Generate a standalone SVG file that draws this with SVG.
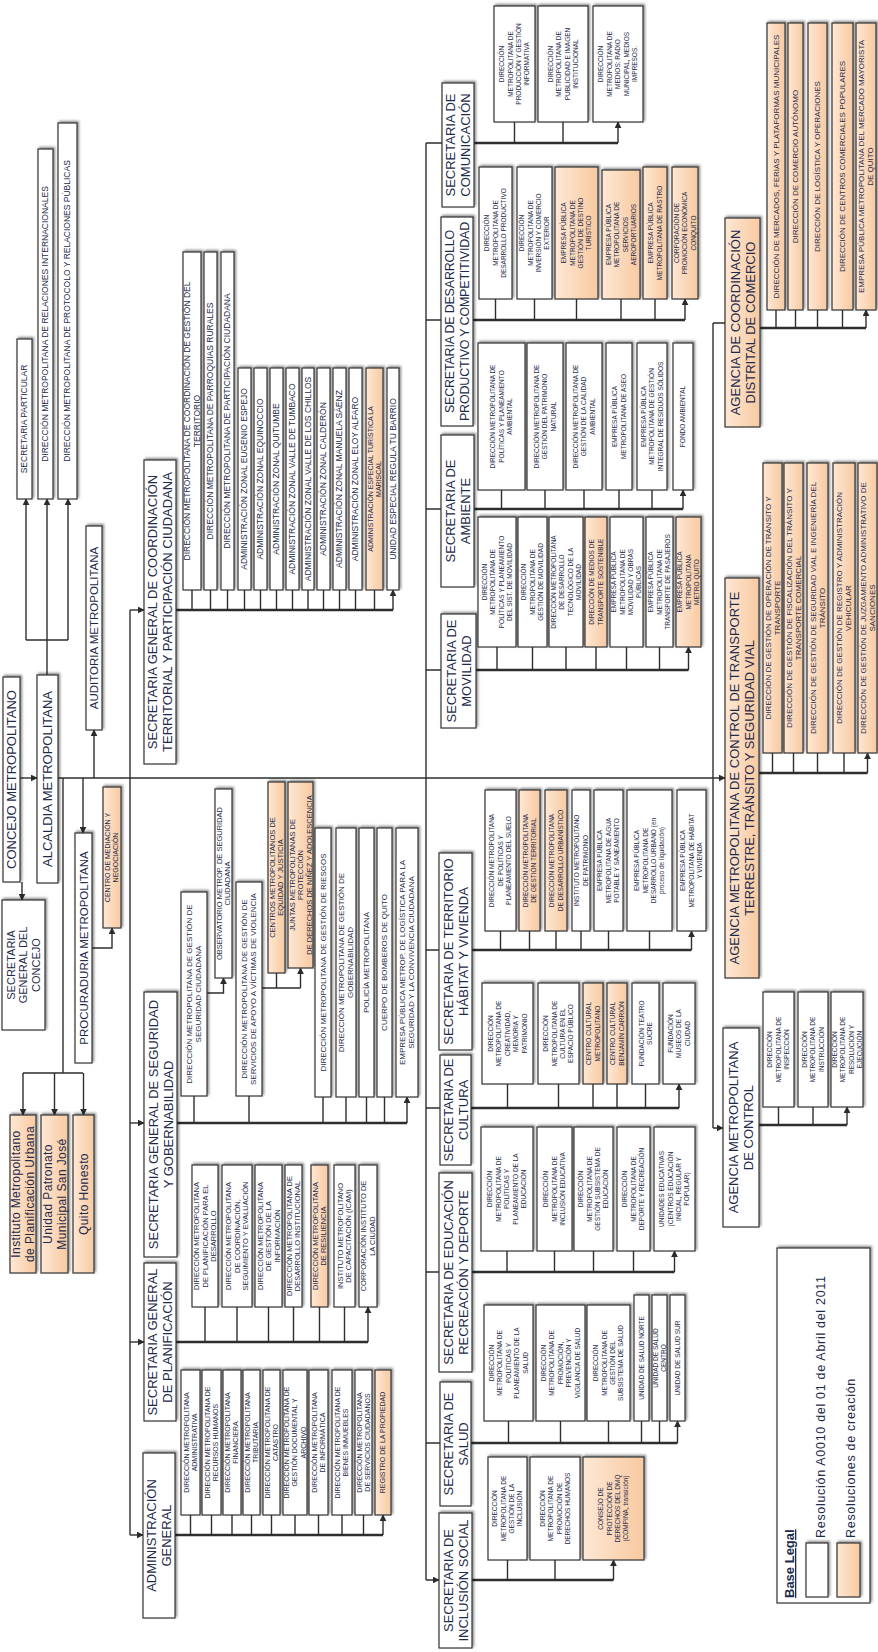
<svg xmlns="http://www.w3.org/2000/svg" width="878" height="1652" viewBox="0 0 878 1652">
<defs>
<style>
.b{fill:#fff;stroke:#333;stroke-width:1.2;filter:url(#sh)}
.o{fill:url(#og);stroke:#333;stroke-width:1.2;filter:url(#sh)}
text{font-family:"Liberation Sans",Arial,sans-serif;fill:#1e2a4a;text-anchor:middle}
.h13{font-size:13px}
.h125{font-size:12.5px;letter-spacing:-0.2px}
.h115{font-size:11.5px}
.h11{font-size:11px}
.f12{font-size:12px;letter-spacing:0.4px}
.f85{font-size:8.5px}
.f8{font-size:8px}
.f75{font-size:7.5px}
.f7{font-size:7px}
.f65{font-size:6.5px}
.lg{font-size:12.5px;letter-spacing:0.7px;text-anchor:start}
.lgb{font-size:13px;font-weight:bold;text-decoration:underline;text-anchor:start}
#cn path{fill:none;stroke:#2e2e2e;stroke-width:1.4}
#cn path.bus{stroke-width:2.3}
#cn path.ar{marker-end:url(#ar)}
</style>
<linearGradient id="og" x1="0" y1="0" x2="1" y2="0"><stop offset="0" stop-color="#fde8d6"/><stop offset="1" stop-color="#f8c9a0"/></linearGradient>
<filter id="sh" x="-40%" y="-10%" width="180%" height="120%"><feDropShadow dx="1.5" dy="-1.5" stdDeviation="1" flood-color="#000" flood-opacity="0.45"/></filter>
<marker id="ar" viewBox="0 0 10 10" refX="9" refY="5" markerWidth="7" markerHeight="7" markerUnits="userSpaceOnUse" orient="auto"><path d="M0,0 L10,5 L0,10 z" fill="#2b2b2b"/></marker>
</defs>
<rect width="878" height="1652" fill="#fff"/>

<g id="cn">
<path class="ar" d="M20,778 H37"/>
<path class="ar" d="M22,882 V900"/>
<path class="ar" d="M47,675 V499"/>
<path d="M26,640 H68"/>
<path class="ar" d="M26,640 V499"/>
<path class="ar" d="M68,640 V499"/>
<path class="ar" d="M58,778 H725"/>
<path class="ar" d="M94,778 V730"/>
<path class="ar" d="M83,778 V833"/>
<path d="M63,778 V1073 M23,1073 H83"/>
<path class="ar" d="M23,1073 V1115"/>
<path class="ar" d="M54.5,1073 V1115"/>
<path class="ar" d="M83.5,1073 V1115"/>
<path class="ar" d="M92,948 H112 V928"/>
<path d="M130,610 V1535"/>
<path class="ar" d="M130,610 H144"/>
<path class="ar" d="M130,1123 H144"/>
<path class="ar" d="M130,1342 H144"/>
<path class="ar" d="M130,1535 H143"/>
<path class="bus" d="M176,610 H393"/>
<path class="ar" d="M192,610 V590 M210.5,610 V590 M227.5,610 V590 M244.5,610 V590 M260.5,610 V590 M276.5,610 V590 M292.5,610 V590 M308,610 V590 M323.5,610 V590 M339.5,610 V590 M355.5,610 V590 M374.5,610 V590 M393,610 V590"/>
<path class="bus" d="M177,1123 H407"/>
<path class="ar" d="M194,1123 V1096 M249,1123 V1096 M323,1123 V1097 M346,1123 V1097 M366.5,1123 V1097 M384.5,1123 V1097 M407,1123 V1097"/>
<path class="ar" d="M207,993 H223.5 V978"/>
<path d="M262,988 H300.5"/>
<path class="ar" d="M276.5,988 V973 M300.5,988 V968"/>
<path class="bus" d="M176,1342 H368"/>
<path class="ar" d="M205,1342 V1307 M237,1342 V1307 M268.5,1342 V1307 M293.5,1342 V1307 M319.5,1342 V1307 M344.5,1342 V1307 M368,1342 V1307"/>
<path class="bus" d="M175,1535 H383"/>
<path class="ar" d="M190.5,1535 V1515 M211.5,1535 V1515 M232,1535 V1515 M251.5,1535 V1515 M271.5,1535 V1515 M295,1535 V1515 M318.5,1535 V1515 M342,1535 V1515 M363.5,1535 V1515 M383,1535 V1515"/>
<path d="M426,143 V1580"/>
<path class="ar" d="M426,143 H442 M426,320 H441 M426,509 H441 M426,670 H441 M426,950 H439 M426,1108 H440 M426,1272 H439 M426,1443 H440 M426,1580 H439"/>
<path class="bus" d="M474,143 H618"/>
<path class="ar" d="M514.5,143 V122 M563,143 V122 M618,143 V122"/>
<path class="bus" d="M473,320 H685"/>
<path class="ar" d="M495.5,320 V299 M534.5,320 V299 M576.5,320 V299 M621,320 V299 M655,320 V299 M685,320 V299"/>
<path class="bus" d="M474,509 H683"/>
<path class="ar" d="M501.5,509 V490 M545,509 V490 M584,509 V490 M619,509 V490 M652,509 V490 M683,509 V490"/>
<path class="bus" d="M476,670 H688.5"/>
<path class="ar" d="M497,670 V647 M532.5,670 V647 M566,670 V647 M596,670 V647 M626.5,670 V647 M659.5,670 V647 M688.5,670 V647"/>
<path class="bus" d="M472,950 H691.5"/>
<path class="ar" d="M500.5,950 V931 M529.5,950 V931 M556,950 V931 M581,950 V931 M608.5,950 V931 M649.5,950 V931 M691.5,950 V931"/>
<path class="bus" d="M471,1108 H679"/>
<path class="ar" d="M507.5,1108 V1084 M558.5,1108 V1084 M593,1108 V1084 M617,1108 V1084 M645.5,1108 V1084 M679,1108 V1084"/>
<path class="bus" d="M472,1272 H674.5"/>
<path class="ar" d="M507,1272 V1251 M554.5,1272 V1251 M593.5,1272 V1251 M633.5,1272 V1251 M674.5,1272 V1251"/>
<path class="bus" d="M471,1443 H677.5"/>
<path class="ar" d="M508.5,1443 V1421 M560.5,1443 V1421 M608.5,1443 V1421 M641.5,1443 V1421 M659.5,1443 V1421 M677.5,1443 V1421"/>
<path class="bus" d="M472,1580 H613.5"/>
<path class="ar" d="M507.5,1580 V1560 M555,1580 V1560 M613.5,1580 V1560"/>
<path d="M713,323 V1128"/>
<path class="ar" d="M713,323 H725 M713,1128 H723"/>
<path class="bus" d="M760,328 H866"/>
<path class="ar" d="M776,328 V310 M795.5,328 V310 M817.5,328 V310 M842.5,328 V310 M866,328 V310"/>
<path class="bus" d="M759,773 H867.5"/>
<path class="ar" d="M772.5,773 V753 M793.5,773 V753 M817.5,773 V753 M844,773 V753 M867.5,773 V753"/>
<path class="bus" d="M759,1125 H847"/>
<path class="ar" d="M778.5,1125 V1107 M813,1125 V1107 M847,1125 V1107"/>
</g>

<g id="concejo"><rect class="b" x="3" y="677" width="17" height="205"/><text class="h13" transform="rotate(-90 11.5 779.5)" x="11.5" y="779.5" dy="0.35em">CONCEJO METROPOLITANO</text></g>
<g id="alcaldia"><rect class="b" x="37" y="675" width="21" height="208"/><text class="h13" transform="rotate(-90 47.5 779)" x="47.5" y="779" dy="0.35em">ALCALDIA METROPOLITANA</text></g>
<g id="sec_particular"><rect class="b" x="17" y="339" width="15" height="160"/><text class="f85" transform="rotate(-90 24.5 419)" x="24.5" y="419" dy="0.35em">SECRETARIA PARTICULAR</text></g>
<g id="dm_rel_int"><rect class="b" x="38" y="149" width="15" height="350"/><text class="f85" transform="rotate(-90 45.5 324)" x="45.5" y="324" dy="0.35em">DIRECCIÓN METROPOLITANA DE RELACIONES INTERNACIONALES</text></g>
<g id="dm_protocolo"><rect class="b" x="58" y="123" width="19" height="376"/><text class="f85" transform="rotate(-90 67.5 311)" x="67.5" y="311" dy="0.35em">DIRECCIÓN METROPOLITANA DE PROTOCOLO Y RELACIONES PÚBLICAS</text></g>
<g id="auditoria"><rect class="b" x="86" y="526" width="16" height="204"/><text class="h115" transform="rotate(-90 94 628)" x="94" y="628" dy="0.35em">AUDITORIA METROPOLITANA</text></g>
<g id="procuraduria"><rect class="b" x="75" y="833" width="17" height="230"/><text class="h115" transform="rotate(-90 83.5 948)" x="83.5" y="948" dy="0.35em">PROCURADURIA METROPOLITANA</text></g>
<g id="centro_mediacion"><rect class="o" x="103" y="787" width="18" height="141"/><text class="f7" transform="rotate(-90 112 857.5)" x="112" y="857.5"><tspan x="112" dy="-0.225em">CENTRO DE MEDIACIÓN Y</tspan><tspan x="112" dy="1.15em">NEGOCIACIÓN</tspan></text></g>
<g id="sg_concejo"><rect class="b" x="2" y="900" width="43" height="130"/><text class="h11" transform="rotate(-90 23.5 965)" x="23.5" y="965"><tspan x="23.5" dy="-0.8em">SECRETARIA</tspan><tspan x="23.5" dy="1.15em">GENERAL DEL</tspan><tspan x="23.5" dy="1.15em">CONCEJO</tspan></text></g>
<g id="inst_planificacion"><rect class="o" x="10" y="1115" width="26" height="158"/><text class="f12" transform="rotate(-90 23 1194)" x="23" y="1194"><tspan x="23" dy="-0.225em">Instituto Metropolitano</tspan><tspan x="23" dy="1.15em">de Planificación Urbana</tspan></text></g>
<g id="patronato"><rect class="o" x="41" y="1115" width="27" height="158"/><text class="f12" transform="rotate(-90 54.5 1194)" x="54.5" y="1194"><tspan x="54.5" dy="-0.225em">Unidad Patronato</tspan><tspan x="54.5" dy="1.15em">Municipal San José</tspan></text></g>
<g id="quito_honesto"><rect class="o" x="73" y="1115" width="21" height="158"/><text class="f12" transform="rotate(-90 83.5 1194)" x="83.5" y="1194" dy="0.35em">Quito Honesto</text></g>

<g id="sg_coordinacion"><rect class="b" x="144" y="460" width="32" height="304"/><text class="h13" transform="rotate(-90 160 612)" x="160" y="612"><tspan x="160" dy="-0.225em">SECRETARIA GENERAL DE COORDINACIÓN</tspan><tspan x="160" dy="1.15em">TERRITORIAL Y PARTICIPACIÓN CIUDADANA</tspan></text></g>
<g id="co1"><rect class="b" x="183" y="252" width="18" height="338"/><text class="f85" transform="rotate(-90 192 421)" x="192" y="421"><tspan x="192" dy="-0.225em">DIRECCIÓN METROPOLITANA DE COORDINACIÓN DE GESTIÓN DEL</tspan><tspan x="192" dy="1.15em">TERRITORIO</tspan></text></g>
<g id="co2"><rect class="b" x="204" y="252" width="13" height="338"/><text class="f85" transform="rotate(-90 210.5 421)" x="210.5" y="421" dy="0.35em">DIRECCIÓN METROPOLITANA DE PARROQUIAS RURALES</text></g>
<g id="co3"><rect class="b" x="221" y="252" width="13" height="338"/><text class="f85" transform="rotate(-90 227.5 421)" x="227.5" y="421" dy="0.35em">DIRECCIÓN METROPOLITANA DE PARTICIPACIÓN CIUDADANA</text></g>
<g id="co4"><rect class="b" x="238" y="368" width="13" height="222"/><text class="f85" transform="rotate(-90 244.5 479)" x="244.5" y="479" dy="0.35em">ADMINISTRACIÓN ZONAL EUGENIO ESPEJO</text></g>
<g id="co5"><rect class="b" x="254" y="368" width="13" height="222"/><text class="f85" transform="rotate(-90 260.5 479)" x="260.5" y="479" dy="0.35em">ADMINISTRACIÓN ZONAL EQUINOCCIO</text></g>
<g id="co6"><rect class="b" x="270" y="368" width="13" height="222"/><text class="f85" transform="rotate(-90 276.5 479)" x="276.5" y="479" dy="0.35em">ADMINISTRACIÓN ZONAL QUITUMBE</text></g>
<g id="co7"><rect class="b" x="286" y="368" width="13" height="222"/><text class="f85" transform="rotate(-90 292.5 479)" x="292.5" y="479" dy="0.35em">ADMINISTRACIÓN ZONAL VALLE DE TUMBACO</text></g>
<g id="co8"><rect class="b" x="302" y="368" width="12" height="222"/><text class="f85" transform="rotate(-90 308 479)" x="308" y="479" dy="0.35em">ADMINISTRACIÓN ZONAL VALLE DE LOS CHILLOS</text></g>
<g id="co9"><rect class="b" x="317" y="368" width="13" height="222"/><text class="f85" transform="rotate(-90 323.5 479)" x="323.5" y="479" dy="0.35em">ADMINISTRACIÓN ZONAL CALDERÓN</text></g>
<g id="co10"><rect class="b" x="333" y="368" width="13" height="222"/><text class="f85" transform="rotate(-90 339.5 479)" x="339.5" y="479" dy="0.35em">ADMINISTRACIÓN ZONAL MANUELA SÁENZ</text></g>
<g id="co11"><rect class="b" x="349" y="368" width="13" height="222"/><text class="f85" transform="rotate(-90 355.5 479)" x="355.5" y="479" dy="0.35em">ADMINISTRACIÓN ZONAL ELOY ALFARO</text></g>
<g id="co12"><rect class="o" x="366" y="368" width="17" height="222"/><text class="f7" transform="rotate(-90 374.5 479)" x="374.5" y="479"><tspan x="374.5" dy="-0.225em">ADMINISTRACIÓN ESPECIAL TURÍSTICA LA</tspan><tspan x="374.5" dy="1.15em">MARISCAL</tspan></text></g>
<g id="co13"><rect class="b" x="387" y="368" width="12" height="222"/><text class="f85" transform="rotate(-90 393 479)" x="393" y="479" dy="0.35em">UNIDAD ESPECIAL REGULA TU BARRIO</text></g>

<g id="sg_seguridad"><rect class="b" x="144" y="992" width="33" height="265"/><text class="h13" transform="rotate(-90 160.5 1124.5)" x="160.5" y="1124.5"><tspan x="160.5" dy="-0.225em">SECRETARIA GENERAL DE SEGURIDAD</tspan><tspan x="160.5" dy="1.15em">Y GOBERNABILIDAD</tspan></text></g>
<g id="se1"><rect class="b" x="181" y="892" width="26" height="204"/><text class="f8" transform="rotate(-90 194 994)" x="194" y="994"><tspan x="194" dy="-0.225em">DIRECCIÓN METROPOLITANA DE GESTIÓN DE</tspan><tspan x="194" dy="1.15em">SEGURIDAD CIUDADANA</tspan></text></g>
<g id="se_obs"><rect class="b" x="215" y="789" width="17" height="189"/><text class="f75" transform="rotate(-90 223.5 883.5)" x="223.5" y="883.5"><tspan x="223.5" dy="-0.225em">OBSERVATORIO METROP. DE SEGURIDAD</tspan><tspan x="223.5" dy="1.15em">CIUDADANA</tspan></text></g>
<g id="se2"><rect class="b" x="236" y="882" width="26" height="214"/><text class="f8" transform="rotate(-90 249 989)" x="249" y="989"><tspan x="249" dy="-0.225em">DIRECCIÓN METROPOLITANA DE GESTIÓN DE</tspan><tspan x="249" dy="1.15em">SERVICIOS DE APOYO A VÍCTIMAS DE VIOLENCIA</tspan></text></g>
<g id="se_centros"><rect class="o" x="268" y="782" width="17" height="191"/><text class="f75" transform="rotate(-90 276.5 877.5)" x="276.5" y="877.5"><tspan x="276.5" dy="-0.225em">CENTROS METROPOLITANOS DE</tspan><tspan x="276.5" dy="1.15em">EQUIDAD Y JUSTICIA</tspan></text></g>
<g id="se_juntas"><rect class="o" x="288" y="782" width="25" height="186"/><text class="f75" transform="rotate(-90 300.5 875)" x="300.5" y="875"><tspan x="300.5" dy="-0.8em">JUNTAS METROPOLITANAS DE</tspan><tspan x="300.5" dy="1.15em">PROTECCIÓN</tspan><tspan x="300.5" dy="1.15em">DE DERECHOS DE NIÑEZ Y ADOLESCENCIA</tspan></text></g>
<g id="se3"><rect class="b" x="315" y="828" width="16" height="269"/><text class="f8" transform="rotate(-90 323 962.5)" x="323" y="962.5" dy="0.35em">DIRECCIÓN METROPOLITANA DE GESTIÓN DE RIESGOS</text></g>
<g id="se4"><rect class="b" x="336" y="828" width="20" height="269"/><text class="f8" transform="rotate(-90 346 962.5)" x="346" y="962.5"><tspan x="346" dy="-0.225em">DIRECCIÓN METROPOLITANA DE GESTIÓN DE</tspan><tspan x="346" dy="1.15em">GOBERNABILIDAD</tspan></text></g>
<g id="se5"><rect class="b" x="359" y="828" width="15" height="269"/><text class="f8" transform="rotate(-90 366.5 962.5)" x="366.5" y="962.5" dy="0.35em">POLICÍA METROPOLITANA</text></g>
<g id="se6"><rect class="b" x="377" y="828" width="15" height="269"/><text class="f8" transform="rotate(-90 384.5 962.5)" x="384.5" y="962.5" dy="0.35em">CUERPO DE BOMBEROS DE QUITO</text></g>
<g id="se7"><rect class="b" x="396" y="828" width="22" height="269"/><text class="f8" transform="rotate(-90 407 962.5)" x="407" y="962.5"><tspan x="407" dy="-0.225em">EMPRESA PÚBLICA METROP. DE LOGÍSTICA PARA LA</tspan><tspan x="407" dy="1.15em">SEGURIDAD Y LA CONVIVENCIA CIUDADANA</tspan></text></g>

<g id="sg_planificacion"><rect class="b" x="144" y="1263" width="32" height="158"/><text class="h13" transform="rotate(-90 160 1342)" x="160" y="1342"><tspan x="160" dy="-0.225em">SECRETARIA GENERAL</tspan><tspan x="160" dy="1.15em">DE PLANIFICACIÓN</tspan></text></g>
<g id="pl1"><rect class="b" x="192" y="1165" width="26" height="142"/><text class="f75" transform="rotate(-90 205 1236)" x="205" y="1236"><tspan x="205" dy="-0.8em">DIRECCIÓN METROPOLITANA</tspan><tspan x="205" dy="1.15em">DE PLANIFICACIÓN PARA EL</tspan><tspan x="205" dy="1.15em">DESARROLLO</tspan></text></g>
<g id="pl2"><rect class="b" x="222" y="1165" width="30" height="142"/><text class="f75" transform="rotate(-90 237 1236)" x="237" y="1236"><tspan x="237" dy="-0.8em">DIRECCIÓN METROPOLITANA</tspan><tspan x="237" dy="1.15em">DE COORDINACIÓN,</tspan><tspan x="237" dy="1.15em">SEGUIMIENTO Y EVALUACIÓN</tspan></text></g>
<g id="pl3"><rect class="b" x="255" y="1165" width="27" height="142"/><text class="f75" transform="rotate(-90 268.5 1236)" x="268.5" y="1236"><tspan x="268.5" dy="-0.8em">DIRECCIÓN METROPOLITANA</tspan><tspan x="268.5" dy="1.15em">DE GESTIÓN DE LA</tspan><tspan x="268.5" dy="1.15em">INFORMACIÓN</tspan></text></g>
<g id="pl4"><rect class="b" x="285" y="1165" width="17" height="142"/><text class="f75" transform="rotate(-90 293.5 1236)" x="293.5" y="1236"><tspan x="293.5" dy="-0.225em">DIRECCIÓN METROPOLITANA DE</tspan><tspan x="293.5" dy="1.15em">DESARROLLO INSTITUCIONAL</tspan></text></g>
<g id="pl5"><rect class="o" x="311" y="1165" width="17" height="142"/><text class="f75" transform="rotate(-90 319.5 1236)" x="319.5" y="1236"><tspan x="319.5" dy="-0.225em">DIRECCIÓN METROPOLITANA</tspan><tspan x="319.5" dy="1.15em">DE RESILIENCIA</tspan></text></g>
<g id="pl6"><rect class="b" x="334" y="1165" width="21" height="142"/><text class="f75" transform="rotate(-90 344.5 1236)" x="344.5" y="1236"><tspan x="344.5" dy="-0.225em">INSTITUTO METROPOLITANO</tspan><tspan x="344.5" dy="1.15em">DE CAPACITACIÓN (ICAM)</tspan></text></g>
<g id="pl7"><rect class="b" x="359" y="1165" width="18" height="142"/><text class="f75" transform="rotate(-90 368 1236)" x="368" y="1236"><tspan x="368" dy="-0.225em">CORPORACIÓN INSTITUTO DE</tspan><tspan x="368" dy="1.15em">LA CIUDAD</tspan></text></g>

<g id="adm_general"><rect class="b" x="143" y="1453" width="32" height="165"/><text class="h13" transform="rotate(-90 159 1535.5)" x="159" y="1535.5"><tspan x="159" dy="-0.225em">ADMINISTRACIÓN</tspan><tspan x="159" dy="1.15em">GENERAL</tspan></text></g>
<g id="ad1"><rect class="b" x="181" y="1370" width="19" height="145"/><text class="f7" transform="rotate(-90 190.5 1442.5)" x="190.5" y="1442.5"><tspan x="190.5" dy="-0.225em">DIRECCIÓN METROPOLITANA</tspan><tspan x="190.5" dy="1.15em">ADMINISTRATIVA</tspan></text></g>
<g id="ad2"><rect class="b" x="202" y="1370" width="19" height="145"/><text class="f7" transform="rotate(-90 211.5 1442.5)" x="211.5" y="1442.5"><tspan x="211.5" dy="-0.225em">DIRECCIÓN METROPOLITANA DE</tspan><tspan x="211.5" dy="1.15em">RECURSOS HUMANOS</tspan></text></g>
<g id="ad3"><rect class="b" x="223" y="1370" width="18" height="145"/><text class="f7" transform="rotate(-90 232 1442.5)" x="232" y="1442.5"><tspan x="232" dy="-0.225em">DIRECCIÓN METROPOLITANA</tspan><tspan x="232" dy="1.15em">FINANCIERA</tspan></text></g>
<g id="ad4"><rect class="b" x="243" y="1370" width="17" height="145"/><text class="f7" transform="rotate(-90 251.5 1442.5)" x="251.5" y="1442.5"><tspan x="251.5" dy="-0.225em">DIRECCIÓN METROPOLITANA</tspan><tspan x="251.5" dy="1.15em">TRIBUTARIA</tspan></text></g>
<g id="ad5"><rect class="b" x="263" y="1370" width="17" height="145"/><text class="f7" transform="rotate(-90 271.5 1442.5)" x="271.5" y="1442.5"><tspan x="271.5" dy="-0.225em">DIRECCIÓN METROPOLITANA DE</tspan><tspan x="271.5" dy="1.15em">CATASTRO</tspan></text></g>
<g id="ad6"><rect class="b" x="283" y="1370" width="24" height="145"/><text class="f7" transform="rotate(-90 295 1442.5)" x="295" y="1442.5"><tspan x="295" dy="-0.8em">DIRECCIÓN METROPOLITANA DE</tspan><tspan x="295" dy="1.15em">GESTIÓN DOCUMENTAL Y</tspan><tspan x="295" dy="1.15em">ARCHIVO</tspan></text></g>
<g id="ad7"><rect class="b" x="309" y="1370" width="19" height="145"/><text class="f7" transform="rotate(-90 318.5 1442.5)" x="318.5" y="1442.5"><tspan x="318.5" dy="-0.225em">DIRECCIÓN METROPOLITANA</tspan><tspan x="318.5" dy="1.15em">DE INFORMÁTICA</tspan></text></g>
<g id="ad8"><rect class="b" x="332" y="1370" width="20" height="145"/><text class="f7" transform="rotate(-90 342 1442.5)" x="342" y="1442.5"><tspan x="342" dy="-0.225em">DIRECCIÓN METROPOLITANA DE</tspan><tspan x="342" dy="1.15em">BIENES INMUEBLES</tspan></text></g>
<g id="ad9"><rect class="b" x="355" y="1370" width="17" height="145"/><text class="f7" transform="rotate(-90 363.5 1442.5)" x="363.5" y="1442.5"><tspan x="363.5" dy="-0.225em">DIRECCIÓN METROPOLITANA</tspan><tspan x="363.5" dy="1.15em">DE SERVICIOS CIUDADANOS</tspan></text></g>
<g id="ad10"><rect class="o" x="375" y="1370" width="16" height="145"/><text class="f7" transform="rotate(-90 383 1442.5)" x="383" y="1442.5" dy="0.35em">REGISTRO DE LA PROPIEDAD</text></g>

<g id="s_comunicacion"><rect class="b" x="442" y="83" width="32" height="124"/><text class="h13" transform="rotate(-90 458 145)" x="458" y="145"><tspan x="458" dy="-0.225em">SECRETARIA DE</tspan><tspan x="458" dy="1.15em">COMUNICACIÓN</tspan></text></g>
<g id="cm1"><rect class="b" x="494" y="6" width="41" height="116"/><text class="f65" transform="rotate(-90 514.5 64)" x="514.5" y="64"><tspan x="514.5" dy="-1.6em">DIRECCIÓN</tspan><tspan x="514.5" dy="1.3em">METROPOLITANA DE</tspan><tspan x="514.5" dy="1.3em">PRODUCCIÓN Y GESTIÓN</tspan><tspan x="514.5" dy="1.3em">INFORMATIVA</tspan></text></g>
<g id="cm2"><rect class="b" x="538" y="6" width="50" height="116"/><text class="f65" transform="rotate(-90 563 64)" x="563" y="64"><tspan x="563" dy="-1.6em">DIRECCIÓN</tspan><tspan x="563" dy="1.3em">METROPOLITANA DE</tspan><tspan x="563" dy="1.3em">PUBLICIDAD E IMAGEN</tspan><tspan x="563" dy="1.3em">INSTITUCIONAL</tspan></text></g>
<g id="cm3"><rect class="b" x="593" y="6" width="50" height="116"/><text class="f65" transform="rotate(-90 618 64)" x="618" y="64"><tspan x="618" dy="-2.25em">DIRECCIÓN</tspan><tspan x="618" dy="1.3em">METROPOLITANA DE</tspan><tspan x="618" dy="1.3em">MEDIOS: RADIO</tspan><tspan x="618" dy="1.3em">MUNICIPAL, MEDIOS</tspan><tspan x="618" dy="1.3em">IMPRESOS.</tspan></text></g>

<g id="s_desarrollo"><rect class="b" x="441" y="217" width="32" height="209"/><text class="h125" transform="rotate(-90 457 321.5)" x="457" y="321.5"><tspan x="457" dy="-0.225em">SECRETARIA DE DESARROLLO</tspan><tspan x="457" dy="1.15em">PRODUCTIVO Y COMPETITIVIDAD</tspan></text></g>
<g id="de1"><rect class="b" x="479" y="167" width="33" height="132"/><text class="f65" transform="rotate(-90 495.5 233)" x="495.5" y="233"><tspan x="495.5" dy="-0.95em">DIRECCIÓN</tspan><tspan x="495.5" dy="1.3em">METROPOLITANA DE</tspan><tspan x="495.5" dy="1.3em">DESARROLLO PRODUCTIVO</tspan></text></g>
<g id="de2"><rect class="b" x="517" y="167" width="35" height="132"/><text class="f65" transform="rotate(-90 534.5 233)" x="534.5" y="233"><tspan x="534.5" dy="-1.6em">DIRECCIÓN</tspan><tspan x="534.5" dy="1.3em">METROPOLITANA DE</tspan><tspan x="534.5" dy="1.3em">INVERSIÓN Y COMERCIO</tspan><tspan x="534.5" dy="1.3em">EXTERIOR</tspan></text></g>
<g id="de3"><rect class="o" x="555" y="167" width="43" height="132"/><text class="f65" transform="rotate(-90 576.5 233)" x="576.5" y="233"><tspan x="576.5" dy="-1.6em">EMPRESA PÚBLICA</tspan><tspan x="576.5" dy="1.3em">METROPOLITANA DE</tspan><tspan x="576.5" dy="1.3em">GESTIÓN DE DESTINO</tspan><tspan x="576.5" dy="1.3em">TURÍSTICO</tspan></text></g>
<g id="de4"><rect class="o" x="602" y="170" width="38" height="129"/><text class="f65" transform="rotate(-90 621 234.5)" x="621" y="234.5"><tspan x="621" dy="-1.6em">EMPRESA PÚBLICA</tspan><tspan x="621" dy="1.3em">METROPOLITANA DE</tspan><tspan x="621" dy="1.3em">SERVICIOS</tspan><tspan x="621" dy="1.3em">AEROPORTUARIOS</tspan></text></g>
<g id="de5"><rect class="o" x="643" y="167" width="24" height="132"/><text class="f65" transform="rotate(-90 655 233)" x="655" y="233"><tspan x="655" dy="-0.3em">EMPRESA PÚBLICA</tspan><tspan x="655" dy="1.3em">METROPOLITANA DE RASTRO</tspan></text></g>
<g id="de6"><rect class="o" x="672" y="167" width="26" height="132"/><text class="f65" transform="rotate(-90 685 233)" x="685" y="233"><tspan x="685" dy="-0.95em">CORPORACIÓN DE</tspan><tspan x="685" dy="1.3em">PROMOCIÓN ECONÓMICA</tspan><tspan x="685" dy="1.3em">CONQUITO</tspan></text></g>

<g id="s_ambiente"><rect class="b" x="441" y="435" width="33" height="152"/><text class="h13" transform="rotate(-90 457.5 511)" x="457.5" y="511"><tspan x="457.5" dy="-0.225em">SECRETARIA DE</tspan><tspan x="457.5" dy="1.15em">AMBIENTE</tspan></text></g>
<g id="am1"><rect class="b" x="478" y="343" width="47" height="147"/><text class="f65" transform="rotate(-90 501.5 416.5)" x="501.5" y="416.5"><tspan x="501.5" dy="-0.95em">DIRECCIÓN METROPOLITANA DE</tspan><tspan x="501.5" dy="1.3em">POLÍTICAS Y PLANEAMIENTO</tspan><tspan x="501.5" dy="1.3em">AMBIENTAL</tspan></text></g>
<g id="am2"><rect class="b" x="527" y="343" width="36" height="147"/><text class="f65" transform="rotate(-90 545 416.5)" x="545" y="416.5"><tspan x="545" dy="-0.95em">DIRECCIÓN METROPOLITANA DE</tspan><tspan x="545" dy="1.3em">GESTIÓN DEL PATRIMONIO</tspan><tspan x="545" dy="1.3em">NATURAL</tspan></text></g>
<g id="am3"><rect class="b" x="566" y="343" width="36" height="147"/><text class="f65" transform="rotate(-90 584 416.5)" x="584" y="416.5"><tspan x="584" dy="-0.95em">DIRECCIÓN METROPOLITANA DE</tspan><tspan x="584" dy="1.3em">GESTIÓN DE LA CALIDAD</tspan><tspan x="584" dy="1.3em">AMBIENTAL</tspan></text></g>
<g id="am4"><rect class="b" x="606" y="343" width="26" height="147"/><text class="f65" transform="rotate(-90 619 416.5)" x="619" y="416.5"><tspan x="619" dy="-0.3em">EMPRESA PÚBLICA</tspan><tspan x="619" dy="1.3em">METROPOLITANA DE ASEO</tspan></text></g>
<g id="am5"><rect class="b" x="637" y="343" width="30" height="147"/><text class="f65" transform="rotate(-90 652 416.5)" x="652" y="416.5"><tspan x="652" dy="-0.95em">EMPRESA PÚBLICA</tspan><tspan x="652" dy="1.3em">METROPOLITANA DE GESTIÓN</tspan><tspan x="652" dy="1.3em">INTEGRAL DE RESIDUOS SÓLIDOS</tspan></text></g>
<g id="am6"><rect class="b" x="673" y="343" width="20" height="147"/><text class="f65" transform="rotate(-90 683 416.5)" x="683" y="416.5" dy="0.35em">FONDO AMBIENTAL</text></g>

<g id="s_movilidad"><rect class="b" x="441" y="614" width="35" height="114"/><text class="h13" transform="rotate(-90 458.5 671)" x="458.5" y="671"><tspan x="458.5" dy="-0.225em">SECRETARIA DE</tspan><tspan x="458.5" dy="1.15em">MOVILIDAD</tspan></text></g>
<g id="mo1"><rect class="b" x="478" y="517" width="38" height="130"/><text class="f65" transform="rotate(-90 497 582)" x="497" y="582"><tspan x="497" dy="-1.6em">DIRECCIÓN</tspan><tspan x="497" dy="1.3em">METROPOLITANA DE</tspan><tspan x="497" dy="1.3em">POLÍTICAS Y PLANEAMIENTO</tspan><tspan x="497" dy="1.3em">DEL SIST. DE MOVILIDAD</tspan></text></g>
<g id="mo2"><rect class="b" x="518" y="517" width="29" height="130"/><text class="f65" transform="rotate(-90 532.5 582)" x="532.5" y="582"><tspan x="532.5" dy="-0.95em">DIRECCIÓN</tspan><tspan x="532.5" dy="1.3em">METROPOLITANA DE</tspan><tspan x="532.5" dy="1.3em">GESTIÓN DE MOVILIDAD</tspan></text></g>
<g id="mo3"><rect class="b" x="549" y="517" width="34" height="130"/><text class="f65" transform="rotate(-90 566 582)" x="566" y="582"><tspan x="566" dy="-1.6em">DIRECCIÓN METROPOLITANA</tspan><tspan x="566" dy="1.3em">DE DESARROLLO</tspan><tspan x="566" dy="1.3em">TECNOLÓGICO DE LA</tspan><tspan x="566" dy="1.3em">MOVILIDAD</tspan></text></g>
<g id="mo4"><rect class="o" x="585" y="517" width="22" height="130"/><text class="f65" transform="rotate(-90 596 582)" x="596" y="582"><tspan x="596" dy="-0.3em">DIRECCIÓN DE MEDIOS DE</tspan><tspan x="596" dy="1.3em">TRANSPORTE SOSTENIBLE</tspan></text></g>
<g id="mo5"><rect class="b" x="610" y="517" width="33" height="130"/><text class="f65" transform="rotate(-90 626.5 582)" x="626.5" y="582"><tspan x="626.5" dy="-1.6em">EMPRESA PÚBLICA</tspan><tspan x="626.5" dy="1.3em">METROPOLITANA DE</tspan><tspan x="626.5" dy="1.3em">MOVILIDAD Y OBRAS</tspan><tspan x="626.5" dy="1.3em">PÚBLICAS</tspan></text></g>
<g id="mo6"><rect class="b" x="646" y="517" width="27" height="130"/><text class="f65" transform="rotate(-90 659.5 582)" x="659.5" y="582"><tspan x="659.5" dy="-0.95em">EMPRESA PÚBLICA</tspan><tspan x="659.5" dy="1.3em">METROPOLITANA DE</tspan><tspan x="659.5" dy="1.3em">TRANSPORTE DE PASAJEROS</tspan></text></g>
<g id="mo7"><rect class="o" x="676" y="517" width="25" height="130"/><text class="f65" transform="rotate(-90 688.5 582)" x="688.5" y="582"><tspan x="688.5" dy="-0.95em">EMPRESA PÚBLICA</tspan><tspan x="688.5" dy="1.3em">METROPOLITANA</tspan><tspan x="688.5" dy="1.3em">METRO QUITO</tspan></text></g>

<g id="s_territorio"><rect class="b" x="439" y="853" width="33" height="197"/><text class="h13" transform="rotate(-90 455.5 951.5)" x="455.5" y="951.5"><tspan x="455.5" dy="-0.225em">SECRETARIA DE TERRITORIO</tspan><tspan x="455.5" dy="1.15em">HÁBITAT Y VIVIENDA</tspan></text></g>
<g id="te1"><rect class="b" x="485" y="790" width="31" height="141"/><text class="f65" transform="rotate(-90 500.5 860.5)" x="500.5" y="860.5"><tspan x="500.5" dy="-0.95em">DIRECCIÓN METROPOLITANA</tspan><tspan x="500.5" dy="1.3em">DE POLÍTICAS Y</tspan><tspan x="500.5" dy="1.3em">PLANEAMIENTO DEL SUELO</tspan></text></g>
<g id="te2"><rect class="o" x="519" y="790" width="21" height="141"/><text class="f65" transform="rotate(-90 529.5 860.5)" x="529.5" y="860.5"><tspan x="529.5" dy="-0.3em">DIRECCIÓN METROPOLITANA</tspan><tspan x="529.5" dy="1.3em">DE GESTIÓN TERRITORIAL</tspan></text></g>
<g id="te3"><rect class="o" x="545" y="790" width="22" height="141"/><text class="f65" transform="rotate(-90 556 860.5)" x="556" y="860.5"><tspan x="556" dy="-0.3em">DIRECCIÓN METROPOLITANA</tspan><tspan x="556" dy="1.3em">DE DESARROLLO URBANÍSTICO</tspan></text></g>
<g id="te4"><rect class="b" x="572" y="790" width="18" height="141"/><text class="f65" transform="rotate(-90 581 860.5)" x="581" y="860.5"><tspan x="581" dy="-0.3em">INSTITUTO METROPOLITANO</tspan><tspan x="581" dy="1.3em">DE PATRIMONIO</tspan></text></g>
<g id="te5"><rect class="b" x="594" y="790" width="29" height="141"/><text class="f65" transform="rotate(-90 608.5 860.5)" x="608.5" y="860.5"><tspan x="608.5" dy="-0.95em">EMPRESA PÚBLICA</tspan><tspan x="608.5" dy="1.3em">METROPOLITANA DE AGUA</tspan><tspan x="608.5" dy="1.3em">POTABLE Y SANEAMIENTO</tspan></text></g>
<g id="te6"><rect class="b" x="627" y="790" width="45" height="141"/><text class="f65" transform="rotate(-90 649.5 860.5)" x="649.5" y="860.5"><tspan x="649.5" dy="-1.6em">EMPRESA PÚBLICA</tspan><tspan x="649.5" dy="1.3em">METROPOLITANA DE</tspan><tspan x="649.5" dy="1.3em">DESARROLLO URBANO (en</tspan><tspan x="649.5" dy="1.3em">proceso de liquidación)</tspan></text></g>
<g id="te7"><rect class="b" x="677" y="790" width="29" height="141"/><text class="f65" transform="rotate(-90 691.5 860.5)" x="691.5" y="860.5"><tspan x="691.5" dy="-0.95em">EMPRESA PÚBLICA</tspan><tspan x="691.5" dy="1.3em">METROPOLITANA DE HÁBITAT</tspan><tspan x="691.5" dy="1.3em">Y VIVIENDA</tspan></text></g>

<g id="s_cultura"><rect class="b" x="440" y="1055" width="31" height="110"/><text class="h13" transform="rotate(-90 455.5 1110)" x="455.5" y="1110"><tspan x="455.5" dy="-0.225em">SECRETARIA DE</tspan><tspan x="455.5" dy="1.15em">CULTURA</tspan></text></g>
<g id="cu1"><rect class="b" x="482" y="983" width="51" height="101"/><text class="f65" transform="rotate(-90 507.5 1033.5)" x="507.5" y="1033.5"><tspan x="507.5" dy="-2.25em">DIRECCIÓN</tspan><tspan x="507.5" dy="1.3em">METROPOLITANA DE</tspan><tspan x="507.5" dy="1.3em">CREATIVIDAD,</tspan><tspan x="507.5" dy="1.3em">MEMORIA Y</tspan><tspan x="507.5" dy="1.3em">PATRIMONIO</tspan></text></g>
<g id="cu2"><rect class="b" x="538" y="983" width="41" height="101"/><text class="f65" transform="rotate(-90 558.5 1033.5)" x="558.5" y="1033.5"><tspan x="558.5" dy="-1.6em">DIRECCIÓN</tspan><tspan x="558.5" dy="1.3em">METROPOLITANA DE</tspan><tspan x="558.5" dy="1.3em">CULTURA EN EL</tspan><tspan x="558.5" dy="1.3em">ESPACIO PÚBLICO</tspan></text></g>
<g id="cu3"><rect class="o" x="583" y="983" width="20" height="101"/><text class="f65" transform="rotate(-90 593 1033.5)" x="593" y="1033.5"><tspan x="593" dy="-0.3em">CENTRO CULTURAL</tspan><tspan x="593" dy="1.3em">METROPOLITANO</tspan></text></g>
<g id="cu4"><rect class="o" x="607" y="983" width="20" height="101"/><text class="f65" transform="rotate(-90 617 1033.5)" x="617" y="1033.5"><tspan x="617" dy="-0.3em">CENTRO CULTURAL</tspan><tspan x="617" dy="1.3em">BENJAMÍN CARRIÓN</tspan></text></g>
<g id="cu5"><rect class="b" x="632" y="983" width="27" height="101"/><text class="f65" transform="rotate(-90 645.5 1033.5)" x="645.5" y="1033.5"><tspan x="645.5" dy="-0.3em">FUNDACIÓN TEATRO</tspan><tspan x="645.5" dy="1.3em">SUCRE</tspan></text></g>
<g id="cu6"><rect class="b" x="663" y="983" width="32" height="101"/><text class="f65" transform="rotate(-90 679 1033.5)" x="679" y="1033.5"><tspan x="679" dy="-0.95em">FUNDACIÓN</tspan><tspan x="679" dy="1.3em">MUSEOS DE LA</tspan><tspan x="679" dy="1.3em">CIUDAD</tspan></text></g>

<g id="s_educacion"><rect class="b" x="439" y="1173" width="33" height="199"/><text class="h13" transform="rotate(-90 455.5 1272.5)" x="455.5" y="1272.5"><tspan x="455.5" dy="-0.225em">SECRETARIA DE EDUCACIÓN</tspan><tspan x="455.5" dy="1.15em">RECREACIÓN Y DEPORTE</tspan></text></g>
<g id="ed1"><rect class="b" x="481" y="1127" width="52" height="124"/><text class="f65" transform="rotate(-90 507 1189)" x="507" y="1189"><tspan x="507" dy="-2.25em">DIRECCIÓN</tspan><tspan x="507" dy="1.3em">METROPOLITANA DE</tspan><tspan x="507" dy="1.3em">POLÍTICAS Y</tspan><tspan x="507" dy="1.3em">PLANEAMIENTO DE LA</tspan><tspan x="507" dy="1.3em">EDUCACIÓN</tspan></text></g>
<g id="ed2"><rect class="b" x="537" y="1127" width="35" height="124"/><text class="f65" transform="rotate(-90 554.5 1189)" x="554.5" y="1189"><tspan x="554.5" dy="-0.95em">DIRECCIÓN</tspan><tspan x="554.5" dy="1.3em">METROPOLITANA DE</tspan><tspan x="554.5" dy="1.3em">INCLUSIÓN EDUCATIVA</tspan></text></g>
<g id="ed3"><rect class="b" x="574" y="1127" width="39" height="124"/><text class="f65" transform="rotate(-90 593.5 1189)" x="593.5" y="1189"><tspan x="593.5" dy="-1.6em">DIRECCIÓN</tspan><tspan x="593.5" dy="1.3em">METROPOLITANA DE</tspan><tspan x="593.5" dy="1.3em">GESTIÓN SUBSISTEMA DE</tspan><tspan x="593.5" dy="1.3em">EDUCACIÓN</tspan></text></g>
<g id="ed4"><rect class="b" x="617" y="1127" width="33" height="124"/><text class="f65" transform="rotate(-90 633.5 1189)" x="633.5" y="1189"><tspan x="633.5" dy="-0.95em">DIRECCIÓN</tspan><tspan x="633.5" dy="1.3em">METROPOLITANA DE</tspan><tspan x="633.5" dy="1.3em">DEPORTE Y RECREACIÓN</tspan></text></g>
<g id="ed5"><rect class="b" x="654" y="1127" width="41" height="124"/><text class="f65" transform="rotate(-90 674.5 1189)" x="674.5" y="1189"><tspan x="674.5" dy="-1.6em">UNIDADES EDUCATIVAS</tspan><tspan x="674.5" dy="1.3em">(CENTROS EDUCACIÓN</tspan><tspan x="674.5" dy="1.3em">INICIAL, REGULAR Y</tspan><tspan x="674.5" dy="1.3em">POPULAR)</tspan></text></g>

<g id="s_salud"><rect class="b" x="440" y="1382" width="31" height="124"/><text class="h13" transform="rotate(-90 455.5 1444)" x="455.5" y="1444"><tspan x="455.5" dy="-0.225em">SECRETARIA DE</tspan><tspan x="455.5" dy="1.15em">SALUD</tspan></text></g>
<g id="sa1"><rect class="b" x="484" y="1305" width="49" height="116"/><text class="f65" transform="rotate(-90 508.5 1363)" x="508.5" y="1363"><tspan x="508.5" dy="-2.25em">DIRECCIÓN</tspan><tspan x="508.5" dy="1.3em">METROPOLITANA DE</tspan><tspan x="508.5" dy="1.3em">POLÍTICAS Y</tspan><tspan x="508.5" dy="1.3em">PLANEAMIENTO DE LA</tspan><tspan x="508.5" dy="1.3em">SALUD</tspan></text></g>
<g id="sa2"><rect class="b" x="536" y="1305" width="49" height="116"/><text class="f65" transform="rotate(-90 560.5 1363)" x="560.5" y="1363"><tspan x="560.5" dy="-2.25em">DIRECCIÓN</tspan><tspan x="560.5" dy="1.3em">METROPOLITANA DE</tspan><tspan x="560.5" dy="1.3em">PROMOCIÓN,</tspan><tspan x="560.5" dy="1.3em">PREVENCIÓN Y</tspan><tspan x="560.5" dy="1.3em">VIGILANCIA DE SALUD</tspan></text></g>
<g id="sa3"><rect class="b" x="587" y="1305" width="43" height="116"/><text class="f65" transform="rotate(-90 608.5 1363)" x="608.5" y="1363"><tspan x="608.5" dy="-1.6em">DIRECCIÓN</tspan><tspan x="608.5" dy="1.3em">METROPOLITANA DE</tspan><tspan x="608.5" dy="1.3em">GESTIÓN DEL</tspan><tspan x="608.5" dy="1.3em">SUBSISTEMA DE SALUD</tspan></text></g>
<g id="sa4"><rect class="b" x="634" y="1295" width="15" height="126"/><text class="f65" transform="rotate(-90 641.5 1358)" x="641.5" y="1358" dy="0.35em">UNIDAD DE SALUD NORTE</text></g>
<g id="sa5"><rect class="b" x="652" y="1295" width="15" height="126"/><text class="f65" transform="rotate(-90 659.5 1358)" x="659.5" y="1358"><tspan x="659.5" dy="-0.225em">UNIDAD DE SALUD</tspan><tspan x="659.5" dy="1.15em">CENTRO</tspan></text></g>
<g id="sa6"><rect class="b" x="670" y="1295" width="15" height="126"/><text class="f65" transform="rotate(-90 677.5 1358)" x="677.5" y="1358" dy="0.35em">UNIDAD DE SALUD SUR</text></g>

<g id="s_inclusion"><rect class="b" x="439" y="1513" width="33" height="135"/><text class="h13" transform="rotate(-90 455.5 1580.5)" x="455.5" y="1580.5"><tspan x="455.5" dy="-0.225em">SECRETARIA DE</tspan><tspan x="455.5" dy="1.15em">INCLUSIÓN SOCIAL</tspan></text></g>
<g id="in1"><rect class="b" x="488" y="1457" width="39" height="103"/><text class="f65" transform="rotate(-90 507.5 1508.5)" x="507.5" y="1508.5"><tspan x="507.5" dy="-1.6em">DIRECCIÓN</tspan><tspan x="507.5" dy="1.3em">METROPOLITANA DE</tspan><tspan x="507.5" dy="1.3em">GESTIÓN DE LA</tspan><tspan x="507.5" dy="1.3em">INCLUSIÓN</tspan></text></g>
<g id="in2"><rect class="b" x="530" y="1457" width="50" height="103"/><text class="f65" transform="rotate(-90 555 1508.5)" x="555" y="1508.5"><tspan x="555" dy="-1.6em">DIRECCIÓN</tspan><tspan x="555" dy="1.3em">METROPOLITANA DE</tspan><tspan x="555" dy="1.3em">PROMOCIÓN DE</tspan><tspan x="555" dy="1.3em">DERECHOS HUMANOS</tspan></text></g>
<g id="in3"><rect class="o" x="583" y="1457" width="61" height="103"/><text class="f65" transform="rotate(-90 613.5 1508.5)" x="613.5" y="1508.5"><tspan x="613.5" dy="-1.6em">CONSEJO DE</tspan><tspan x="613.5" dy="1.3em">PROTECCIÓN DE</tspan><tspan x="613.5" dy="1.3em">DERECHOS DEL DMQ</tspan><tspan x="613.5" dy="1.3em">(COMPINA, transición)</tspan></text></g>

<g id="ag_comercio"><rect class="o" x="725" y="218" width="35" height="209"/><text class="h13" transform="rotate(-90 742.5 322.5)" x="742.5" y="322.5"><tspan x="742.5" dy="-0.225em">AGENCIA DE COORDINACIÓN</tspan><tspan x="742.5" dy="1.15em">DISTRITAL DE COMERCIO</tspan></text></g>
<g id="cc1"><rect class="o" x="767" y="23" width="18" height="287"/><text class="f8" transform="rotate(-90 776 166.5)" x="776" y="166.5" dy="0.35em">DIRECCIÓN DE MERCADOS, FERIAS Y PLATAFORMAS MUNICIPALES</text></g>
<g id="cc2"><rect class="o" x="788" y="23" width="15" height="287"/><text class="f8" transform="rotate(-90 795.5 166.5)" x="795.5" y="166.5" dy="0.35em">DIRECCIÓN DE COMERCIO AUTÓNOMO</text></g>
<g id="cc3"><rect class="o" x="808" y="23" width="19" height="287"/><text class="f8" transform="rotate(-90 817.5 166.5)" x="817.5" y="166.5" dy="0.35em">DIRECCIÓN DE LOGÍSTICA Y OPERACIONES</text></g>
<g id="cc4"><rect class="o" x="832" y="23" width="21" height="287"/><text class="f8" transform="rotate(-90 842.5 166.5)" x="842.5" y="166.5" dy="0.35em">DIRECCIÓN DE CENTROS COMERCIALES POPULARES</text></g>
<g id="cc5"><rect class="o" x="856" y="23" width="20" height="287"/><text class="f8" transform="rotate(-90 866 166.5)" x="866" y="166.5"><tspan x="866" dy="-0.225em">EMPRESA PÚBLICA METROPOLITANA DEL MERCADO MAYORISTA</tspan><tspan x="866" dy="1.15em">DE QUITO</tspan></text></g>

<g id="ag_transporte"><rect class="o" x="725" y="578" width="34" height="400"/><text class="h13" transform="rotate(-90 742 778)" x="742" y="778"><tspan x="742" dy="-0.225em">AGENCIA METROPOLITANA DE CONTROL DE TRANSPORTE</tspan><tspan x="742" dy="1.15em">TERRESTRE, TRÁNSITO Y SEGURIDAD VIAL</tspan></text></g>
<g id="tr1"><rect class="o" x="763" y="463" width="19" height="290"/><text class="f8" transform="rotate(-90 772.5 608)" x="772.5" y="608"><tspan x="772.5" dy="-0.225em">DIRECCIÓN DE GESTIÓN DE OPERACIÓN DE TRÁNSITO Y</tspan><tspan x="772.5" dy="1.15em">TRANSPORTE</tspan></text></g>
<g id="tr2"><rect class="o" x="784" y="463" width="19" height="290"/><text class="f8" transform="rotate(-90 793.5 608)" x="793.5" y="608"><tspan x="793.5" dy="-0.225em">DIRECCIÓN DE GESTIÓN DE FISCALIZACIÓN DEL TRÁNSITO Y</tspan><tspan x="793.5" dy="1.15em">TRANSPORTE COMERCIAL</tspan></text></g>
<g id="tr3"><rect class="o" x="807" y="463" width="21" height="290"/><text class="f8" transform="rotate(-90 817.5 608)" x="817.5" y="608"><tspan x="817.5" dy="-0.225em">DIRECCIÓN DE GESTIÓN DE SEGURIDAD VIAL E INGENIERÍA DEL</tspan><tspan x="817.5" dy="1.15em">TRÁNSITO</tspan></text></g>
<g id="tr4"><rect class="o" x="833" y="463" width="22" height="290"/><text class="f8" transform="rotate(-90 844 608)" x="844" y="608"><tspan x="844" dy="-0.225em">DIRECCIÓN DE GESTIÓN DE REGISTRO Y ADMINISTRACIÓN</tspan><tspan x="844" dy="1.15em">VEHICULAR</tspan></text></g>
<g id="tr5"><rect class="o" x="858" y="463" width="19" height="290"/><text class="f8" transform="rotate(-90 867.5 608)" x="867.5" y="608"><tspan x="867.5" dy="-0.225em">DIRECCIÓN DE GESTIÓN DE JUZGAMIENTO ADMINISTRATIVO DE</tspan><tspan x="867.5" dy="1.15em">SANCIONES</tspan></text></g>

<g id="ag_control"><rect class="b" x="723" y="1028" width="36" height="199"/><text class="h13" transform="rotate(-90 741 1127.5)" x="741" y="1127.5"><tspan x="741" dy="-0.225em">AGENCIA METROPOLITANA</tspan><tspan x="741" dy="1.15em">DE CONTROL</tspan></text></g>
<g id="ct1"><rect class="b" x="763" y="992" width="31" height="115"/><text class="f65" transform="rotate(-90 778.5 1049.5)" x="778.5" y="1049.5"><tspan x="778.5" dy="-0.95em">DIRECCIÓN</tspan><tspan x="778.5" dy="1.3em">METROPOLITANA DE</tspan><tspan x="778.5" dy="1.3em">INSPECCIÓN</tspan></text></g>
<g id="ct2"><rect class="b" x="798" y="992" width="30" height="115"/><text class="f65" transform="rotate(-90 813 1049.5)" x="813" y="1049.5"><tspan x="813" dy="-0.95em">DIRECCIÓN</tspan><tspan x="813" dy="1.3em">METROPOLITANA DE</tspan><tspan x="813" dy="1.3em">INSTRUCCIÓN</tspan></text></g>
<g id="ct3"><rect class="b" x="831" y="992" width="32" height="115"/><text class="f65" transform="rotate(-90 847 1049.5)" x="847" y="1049.5"><tspan x="847" dy="-1.6em">DIRECCIÓN</tspan><tspan x="847" dy="1.3em">METROPOLITANA DE</tspan><tspan x="847" dy="1.3em">RESOLUCIÓN Y</tspan><tspan x="847" dy="1.3em">EJECUCIÓN</tspan></text></g>

<g id="legend">
<rect class="b" x="777" y="1248" width="93" height="355"/>
<text class="lgb" transform="translate(794 1598) rotate(-90)">Base Legal</text>
<rect class="b" x="806" y="1543" width="22" height="54"/>
<text class="lg" transform="translate(825 1538) rotate(-90)">Resolución A0010 del 01 de Abril del 2011</text>
<rect class="o" x="837" y="1543" width="23" height="54"/>
<text class="lg" transform="translate(855 1538) rotate(-90)">Resoluciones  de  creación</text>
</g>
</svg>
